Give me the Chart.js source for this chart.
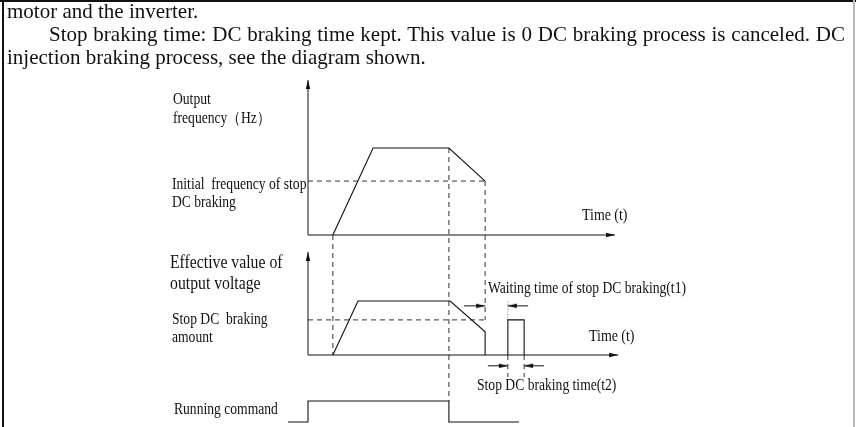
<!DOCTYPE html>
<html>
<head>
<meta charset="utf-8">
<script src="https://cdn.jsdelivr.net/npm/chart.js@4.4.0/dist/chart.umd.min.js"></script>
<style>
html,body{margin:0;padding:0;background:#fff;}
#page{position:relative;width:856px;height:427px;overflow:hidden;}
#cv{position:absolute;left:0;top:0;}
.ln{position:absolute;left:7px;white-space:nowrap;font:21px "Liberation Serif","Times New Roman",serif;color:#111;line-height:23px;}
.jl{white-space:normal;width:796px;text-align:justify;text-align-last:justify;}
.bt{position:absolute;left:0;top:0;width:856px;height:2px;background:#111;}
.bl{position:absolute;left:2px;top:0;width:2px;height:427px;background:#111;}
.br{position:absolute;left:853px;top:0;width:2px;height:427px;background:#bbb;}
</style>
</head>
<body>
<div id="page">
<canvas id="cv" width="856" height="427"></canvas>
<div class="ln" style="top:0px">motor and the inverter.</div>
<div class="ln jl" style="top:23px;left:49px">Stop braking time: DC braking time kept. This value is 0 DC braking process is canceled. DC</div>
<div class="ln" style="top:46px">injection braking process, see the diagram shown.</div>
<div class="bt"></div><div class="bl"></div><div class="br"></div>
</div>
<script>
// time runs 0..100 along the drawn time axis
const freqT = [8.1, 21.2, 45.9, 57.7];
const freqV = [0, 100, 100, 62];          // % of running frequency
const voltT = [8.1, 16.3, 46.3, 57.7, 57.7];
const voltV = [0, 100, 100, 43, 0];       // % of running voltage
const dcT = [65.1, 65.1, 70.4, 70.4];     // stop DC braking pulse
const dcV = [0, 65, 65, 0];
const runT = [-6.5, 0, 0, 45.9, 45.9, 68.7];
const runV = [0, 0, 1, 1, 0, 0];          // running command off/on
const brakeFreq = 62;
const brakeAmount = 65;
const waitStart = 50.8, waitEnd = 71.7;   // t1 marker arrows
const t2Start = 58.6, t2End = 76.9;       // t2 marker arrows

// where each panel sits on the page (px) and px per value unit
const panels = {
  yF: { base: 235, unit: 0.87 },
  yV: { base: 355, unit: 0.54 },
  yR: { base: 422, unit: 21 }
};
const xBase = 308, xUnit = 3.07;
function px(axis, v){ return panels[axis].base - v * panels[axis].unit; }
function val(axis, p){ return (panels[axis].base - p) / panels[axis].unit; }

function arrowHead(len, half){
  const c = document.createElement('canvas');
  c.width = len * 2 + 2; c.height = len * 2 + 2;
  const g = c.getContext('2d');
  const cx = c.width / 2, cy = c.height / 2;
  g.fillStyle = '#111';
  g.beginPath();
  g.moveTo(cx, cy);
  g.lineTo(cx - len, cy - half);
  g.lineTo(cx - len, cy + half);
  g.closePath();
  g.fill();
  return c;
}
const arrowImg = arrowHead(9, 2.2);

function seg(xs, ys, axis, opt){
  opt = opt || {};
  const n = xs.length;
  return {
    data: xs.map((x, i) => ({ x: x, y: ys[i] })),
    yAxisID: axis,
    showLine: true,
    borderColor: opt.color || '#111',
    borderWidth: opt.width || 1,
    borderDash: opt.dash || [],
    pointRadius: xs.map((x, i) => (opt.arrow !== undefined && i === n - 1) ? 5 : 0),
    pointHoverRadius: 0,
    pointStyle: arrowImg,
    rotation: opt.arrow || 0,
    tension: 0,
    fill: false
  };
}

const dash = { dash: [5, 4], color: '#333' };
const up = -90, right = 0, left = 180;

const datasets = [
  // frequency panel
  seg([0, 0], [0, val('yF', 80)], 'yF', { arrow: up }),
  seg([0, 100], [0, 0], 'yF', { arrow: right }),
  seg(freqT, freqV, 'yF', { width: 1.1 }),
  seg([0, freqT[3]], [brakeFreq, brakeFreq], 'yF', dash),
  // voltage panel
  seg([0, 0], [0, val('yV', 252)], 'yV', { arrow: up }),
  seg([0, 101], [0, 0], 'yV', { arrow: right }),
  seg(voltT, voltV, 'yV', { width: 1.1 }),
  seg(dcT, dcV, 'yV', { width: 1.1 }),
  seg([0, voltT[3]], [brakeAmount, brakeAmount], 'yV', dash),
  seg([dcT[0], dcT[0]], [brakeAmount, 100], 'yV', { dash: [1, 1.5], color: '#777' }),
  seg([dcT[0], dcT[0]], [0, -41], 'yV', dash),
  seg([dcT[2], dcT[2]], [0, -41], 'yV', dash),
  seg([waitStart, voltT[3]], [91, 91], 'yV', { arrow: right }),
  seg([waitEnd, dcT[0]], [91, 91], 'yV', { arrow: left }),
  seg([t2Start, dcT[0]], [-20, -20], 'yV', { arrow: right }),
  seg([t2End, dcT[2]], [-20, -20], 'yV', { arrow: left }),
  // guide lines between panels
  seg([freqT[0], freqT[0]], [val('yV', px('yF', 0)), 0], 'yV', dash),
  seg([freqT[2], freqT[2]], [val('yR', px('yF', 100)), 1], 'yR', dash),
  seg([freqT[3], freqT[3]], [val('yV', px('yF', brakeFreq)), brakeAmount], 'yV', dash),
  // running command
  seg(runT, runV, 'yR', { width: 1.1 })
];

const labels = [
  ['Output', 173, 104, 16, 0.85],
  ['frequency（Hz）', 173, 123, 16, 0.85],
  ['Initial  frequency of stop', 172, 189, 16, 0.85],
  ['DC braking', 172, 207, 16, 0.85],
  ['Effective value of', 170, 268, 18, 0.875],
  ['output voltage', 170, 289, 18, 0.875],
  ['Stop DC  braking', 172, 324, 16, 0.85],
  ['amount', 172, 342, 16, 0.85],
  ['Running command', 174, 414, 16, 0.85],
  ['Time (t)', 582, 220, 16, 0.87],
  ['Time (t)', 589, 341, 16, 0.87],
  ['Waiting time of stop DC braking(t1)', 488, 293, 16, 0.85],
  ['Stop DC braking time(t2)', 477, 390, 16, 0.85]
];

const labelPlugin = {
  id: 'labels',
  afterDatasetsDraw(chart){
    const ctx = chart.ctx;
    labels.forEach(l => {
      ctx.save();
      ctx.font = l[3] + 'px "Liberation Serif", "Times New Roman", serif';
      ctx.fillStyle = '#111';
      ctx.textBaseline = 'alphabetic';
      ctx.translate(l[1], l[2]);
      ctx.scale(l[4], 1);
      ctx.fillText(l[0], 0, 0);
      ctx.restore();
    });
  }
};

function yScale(axis){
  const p = panels[axis];
  return { type: 'linear', display: false, min: (p.base - 427) / p.unit, max: p.base / p.unit };
}

new Chart(document.getElementById('cv'), {
  type: 'scatter',
  data: { datasets: datasets },
  options: {
    responsive: false,
    animation: false,
    layout: { padding: 0, autoPadding: false },
    plugins: { legend: { display: false }, tooltip: { enabled: false } },
    events: [],
    scales: {
      x: { type: 'linear', display: false, min: -xBase / xUnit, max: (856 - xBase) / xUnit },
      yF: yScale('yF'),
      yV: yScale('yV'),
      yR: yScale('yR')
    }
  },
  plugins: [labelPlugin]
});
</script>
</body>
</html>
